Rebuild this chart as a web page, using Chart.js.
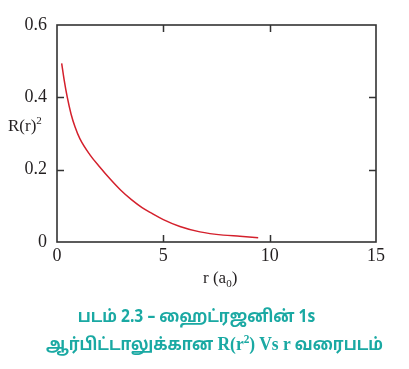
<!DOCTYPE html>
<html>
<head>
<meta charset="utf-8">
<script src="https://cdn.jsdelivr.net/npm/chart.js@4/dist/chart.umd.min.js"></script>
<style>
  html, body { margin: 0; padding: 0; background: #fff; }
  #wrap { position: relative; width: 409px; height: 369px; overflow: hidden; }
  canvas { position: absolute; left: 0; top: 0; }
  .lbl { position: absolute; font-family: "Liberation Serif", "DejaVu Serif", serif; color: #231f20; font-size: 17px; white-space: nowrap; line-height: 1; }
  .cap { position: absolute; left: 0; width: 409px; text-align: center; font-family: "Noto Sans Tamil", "Noto Sans", "Lato", sans-serif; font-weight: bold; color: #1aa9a3; font-size: 17px; white-space: nowrap; line-height: 1; transform: scaleX(0.92); transform-origin: center; }
  .cap .ser { font-family: "Liberation Serif", serif; font-size: 19px; }
  sup, sub { font-size: 65%; line-height: 0; }
</style>
</head>
<body>
<div id="wrap">
  <canvas id="c" width="409" height="369"></canvas>
  <div class="lbl" style="left:8px; top:117px;">R(r)<sup>2</sup></div>
  <div class="lbl" style="left:203px; top:269px;">r (a<sub>0</sub>)</div>
  <div class="cap" style="top:309px; left:-8px;">படம் 2.3 – ஹைட்ரஜனின் 1s</div>
  <div class="cap" style="top:334px; left:10px;">ஆர்பிட்டாலுக்கான <span class="ser">R(r<sup>2</sup>) Vs r</span> வரைபடம்</div>
</div>
<script>
const rValues = [0.22, 0.34, 0.48, 0.66, 0.85, 1.08, 1.55, 2.0, 2.5, 3.0, 3.5, 4.0, 4.5, 5.0, 5.78, 6.72, 7.82, 8.6, 9.46];
const densityValues = [0.494, 0.447, 0.401, 0.354, 0.318, 0.285, 0.241, 0.208, 0.174, 0.143, 0.117, 0.095, 0.078, 0.062, 0.043, 0.028, 0.019, 0.016, 0.012];
const xTicks = [0, 5, 10, 15];
const yTicks = [0, 0.2, 0.4, 0.6];
const yTickLabels = ['0', '0.2', '0.4', '0.6'];

const points = rValues.map((r, i) => ({ x: r, y: densityValues[i] }));

const innerTicks = {
  id: 'innerTicks',
  afterDraw(chart) {
    const { ctx, chartArea: a, scales: { x, y } } = chart;
    const len = 7;
    ctx.save();
    ctx.strokeStyle = '#333';
    ctx.lineWidth = 1.5;
    ctx.beginPath();
    xTicks.slice(1, -1).forEach(v => {
      const px = Math.round(x.getPixelForValue(v)) + 0.5;
      ctx.moveTo(px, a.bottom); ctx.lineTo(px, a.bottom - len);
      ctx.moveTo(px, a.top); ctx.lineTo(px, a.top + len);
    });
    yTicks.slice(1, -1).forEach(v => {
      const py = Math.round(y.getPixelForValue(v)) + 0.5;
      ctx.moveTo(a.left, py); ctx.lineTo(a.left + len, py);
      ctx.moveTo(a.right, py); ctx.lineTo(a.right - len, py);
    });
    ctx.stroke();
    ctx.lineWidth = 1.6;
    ctx.strokeRect(a.left, a.top, a.right - a.left, a.bottom - a.top);
    ctx.restore();
  }
};

new Chart(document.getElementById('c'), {
  type: 'scatter',
  data: {
    datasets: [{
      data: points,
      showLine: true,
      borderColor: '#d4202c',
      borderWidth: 1.5,
      pointRadius: 0,
      cubicInterpolationMode: 'monotone',
      fill: false
    }]
  },
  options: {
    responsive: false,
    animation: false,
    events: [],
    layout: { padding: { top: 25, right: 33, left: 0, bottom: 0 } },
    plugins: { legend: { display: false }, tooltip: { enabled: false } },
    scales: {
      x: {
        type: 'linear', min: 0, max: 15,
        afterFit: s => { s.height = 127; },
        afterBuildTicks: s => { s.ticks = xTicks.map(v => ({ value: v })); },
        grid: { display: false, drawTicks: false },
        border: { display: false },
        ticks: {
          padding: 3,
          color: '#231f20',
          font: { family: 'Liberation Serif', size: 18 },
          callback: v => String(v)
        }
      },
      y: {
        type: 'linear', min: 0, max: 0.6,
        afterFit: s => { s.width = 57; },
        afterBuildTicks: s => { s.ticks = yTicks.map(v => ({ value: v })); },
        grid: { display: false, drawTicks: false },
        border: { display: false },
        ticks: {
          padding: 10,
          color: '#231f20',
          font: { family: 'Liberation Serif', size: 18 },
          callback: (v) => yTickLabels[yTicks.indexOf(v)] ?? ''
        }
      }
    }
  },
  plugins: [innerTicks]
});
</script>
</body>
</html>
